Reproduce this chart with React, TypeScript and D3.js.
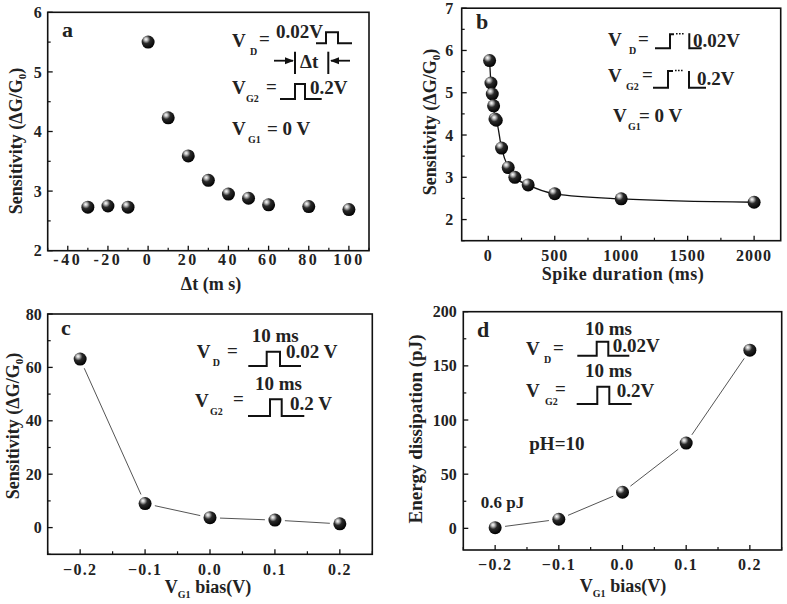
import React from "react";
import * as d3 from "d3";

// ---- Data ----
const aX = [-30, -20, -10, 0, 10, 20, 30, 40, 50, 60, 80, 100];
const aY = [2.73, 2.75, 2.73, 5.5, 4.23, 3.59, 3.18, 2.95, 2.88, 2.77, 2.74, 2.69];

const bX = [10, 20, 30, 40, 50, 60, 100, 150, 200, 300, 500, 1000, 2000];
const bY = [5.76, 5.23, 4.97, 4.69, 4.38, 4.35, 3.69, 3.23, 3.0, 2.82, 2.61, 2.49, 2.41];

const cX = [-0.2, -0.1, 0.0, 0.1, 0.2];
const cY = [63.1, 9.0, 3.7, 2.8, 1.4];

const dX = [-0.2, -0.1, 0.0, 0.1, 0.2];
const dY = [0.6, 8.4, 33.3, 78.7, 164.5];

const aXTicks = [-40, -20, 0, 20, 40, 60, 80, 100];
const aYTicks = [2, 3, 4, 5, 6];
const bXTicks = [0, 500, 1000, 1500, 2000];
const bYTicks = [2, 3, 4, 5, 6, 7];
const cXTicks = [-0.2, -0.1, 0.0, 0.1, 0.2];
const cYTicks = [0, 20, 40, 60, 80];
const dXTicks = [-0.2, -0.1, 0.0, 0.1, 0.2];
const dYTicks = [0, 50, 100, 150, 200];

const FONT = "'Liberation Serif', 'Times New Roman', serif";

type PanelProps = {
  box: [number, number, number, number];
  xDomain: [number, number];
  yDomain: [number, number];
  xTicks: number[];
  yTicks: number[];
  xMinorStep: number;
  yMinorStep: number;
  xFmt: (v: number) => string;
  yFmt: (v: number) => string;
  xs: number[];
  ys: number[];
  line: "none" | "curve" | "gap";
  xLabelDy: number;
  yLabelGap: number;
  xLetterSpacing: number;
};

function Panel(p: PanelProps) {
  const [l, t, r, b] = p.box;
  const x = d3.scaleLinear().domain(p.xDomain).range([l, r]);
  const y = d3.scaleLinear().domain(p.yDomain).range([b, t]);
  const xMinor = d3.range(
    Math.ceil(p.xDomain[0] / p.xMinorStep) * p.xMinorStep,
    p.xDomain[1] + 1e-9,
    p.xMinorStep
  ).filter((v) => !p.xTicks.some((m) => Math.abs(m - v) < 1e-9));
  const yMinor = d3.range(
    Math.ceil(p.yDomain[0] / p.yMinorStep) * p.yMinorStep,
    p.yDomain[1] + 1e-9,
    p.yMinorStep
  ).filter((v) => !p.yTicks.some((m) => Math.abs(m - v) < 1e-9));
  const pts = p.xs.map((v, i) => [x(v), y(p.ys[i])] as [number, number]);
  let lineEl: React.ReactNode = null;
  if (p.line === "curve") {
    const gen = d3.line().curve(d3.curveMonotoneX);
    lineEl = <path d={gen(pts) || ""} fill="none" stroke="#111" strokeWidth={1.3} />;
  } else if (p.line === "gap") {
    const g = 10;
    lineEl = pts.slice(1).map((q, i) => {
      const a = pts[i];
      const dx = q[0] - a[0], dy = q[1] - a[1];
      const len = Math.hypot(dx, dy);
      const ux = dx / len, uy = dy / len;
      return (
        <line key={i} x1={a[0] + ux * g} y1={a[1] + uy * g} x2={q[0] - ux * g} y2={q[1] - uy * g}
          stroke="#555" strokeWidth={1} />
      );
    });
  }
  return (
    <g>
      {p.xTicks.map((v) => (
        <g key={"xt" + v}>
          <line x1={x(v)} x2={x(v)} y1={b} y2={b - 5} stroke="#111" strokeWidth={1.3} />
          <text x={x(v)} y={b + p.xLabelDy} textAnchor="middle" fontSize={16} fontWeight="bold"
            letterSpacing={p.xLetterSpacing} fill="#222" fontFamily={FONT}>{p.xFmt(v)}</text>
        </g>
      ))}
      {xMinor.map((v) => (
        <line key={"xm" + v} x1={x(v)} x2={x(v)} y1={b} y2={b - 3} stroke="#111" strokeWidth={1.2} />
      ))}
      {p.yTicks.map((v) => (
        <g key={"yt" + v}>
          <line x1={l} x2={l + 5} y1={y(v)} y2={y(v)} stroke="#111" strokeWidth={1.3} />
          <text x={l - p.yLabelGap} y={y(v)} dy="0.35em" textAnchor="end" fontSize={16} fontWeight="bold"
            fill="#222" fontFamily={FONT}>{p.yFmt(v)}</text>
        </g>
      ))}
      {yMinor.map((v) => (
        <line key={"ym" + v} x1={l} x2={l + 3} y1={y(v)} y2={y(v)} stroke="#111" strokeWidth={1.2} />
      ))}
      {lineEl}
      {pts.map((q, i) => (
        <circle key={"p" + i} cx={q[0]} cy={q[1]} r={6.5} fill="url(#sphere)" />
      ))}
      <rect x={l} y={t} width={r - l} height={b - t} fill="none" stroke="#111" strokeWidth={1.6} />
    </g>
  );
}

const T = (props: any) => (
  <text fontFamily={FONT} fontWeight="bold" fill="#222" fontSize={19} {...props} />
);

function VSub(props: { x: number; y: number; sub: string; subDx: number }) {
  return (
    <g>
      <T x={props.x} y={props.y}>V</T>
      <T x={props.x + props.subDx} y={props.y + 8} fontSize={10}>{props.sub}</T>
    </g>
  );
}

function YLabel(props: { cx: number; cy: number }) {
  return (
    <text transform={`translate(${props.cx},${props.cy}) rotate(-90)`} textAnchor="middle" dy="0.35em"
      fontFamily={FONT} fontWeight="bold" fontSize={18} fill="#222">
      Sensitivity (ΔG/G<tspan fontSize={11} dy={4}>0</tspan><tspan dy={-4}>)</tspan>
    </text>
  );
}

function VG1Label(props: { cx: number; y: number }) {
  return (
    <text x={props.cx} y={props.y} textAnchor="middle" fontFamily={FONT} fontWeight="bold" fontSize={18} fill="#222">
      V<tspan fontSize={10} dy={5}>G1</tspan><tspan dy={-5}> bias(V)</tspan>
    </text>
  );
}

export default function App() {
  const f1 = (v: number) => d3.format(".1f")(v);
  const f0 = (v: number) => String(v);
  const stroke = { fill: "none", stroke: "#111", strokeWidth: 2 };
  return (
    <svg width={787} height={604} style={{ position: "absolute", left: 0, top: 0, background: "#fff" }}>
      <defs>
        <radialGradient id="sphere" cx="38%" cy="32%" r="70%" fx="33%" fy="28%">
          <stop offset="0%" stopColor="#ffffff" />
          <stop offset="18%" stopColor="#bdbdbd" />
          <stop offset="45%" stopColor="#2a2a2a" />
          <stop offset="100%" stopColor="#000" />
        </radialGradient>
        <marker id="arr" viewBox="0 0 10 10" refX="9" refY="5" markerWidth="5" markerHeight="5" orient="auto-start-reverse">
          <path d="M0,1 L10,5 L0,9 z" fill="#111" />
        </marker>
      </defs>
      <rect x={0} y={0} width={787} height={604} fill="#fff" />

      {/* Panel a */}
      <Panel box={[47.7, 12.3, 369, 250.7]} xDomain={[-50, 110]} yDomain={[2, 6]} xTicks={aXTicks} yTicks={aYTicks}
        xMinorStep={10} yMinorStep={0.5} xFmt={f0} yFmt={f0} xs={aX} ys={aY} line="none" xLabelDy={14}
        yLabelGap={6} xLetterSpacing={2.5} />
      <YLabel cx={16} cy={141} />
      <text x={211} y={290} textAnchor="middle" fontFamily={FONT} fontWeight="bold" fontSize={18} fill="#222">
        Δt (m s)
      </text>
      <T x={62} y={37} fontSize={22}>a</T>
      <VSub x={232} y={47} sub="D" subDx={18} />
      <T x={259} y={45}>=</T>
      <T x={276} y={38}>0.02V</T>
      <path d="M316,43.3 H326 V32.3 H338 V43.3 H352" {...stroke} />
      <line x1={274} y1={60.7} x2={293} y2={60.7} stroke="#111" strokeWidth={1.8} markerEnd="url(#arr)" />
      <line x1={295} y1={51.7} x2={295} y2={74} stroke="#111" strokeWidth={2} />
      <T x={300} y={68}>Δt</T>
      <line x1={328.3} y1={51.7} x2={328.3} y2={74} stroke="#111" strokeWidth={2} />
      <line x1={350} y1={60.7} x2={331} y2={60.7} stroke="#111" strokeWidth={1.8} markerEnd="url(#arr)" />
      <VSub x={232} y={94.3} sub="G2" subDx={14} />
      <T x={266} y={93}>=</T>
      <path d="M280,99 H295 V84 H305 V99 H321.7" {...stroke} />
      <T x={310} y={94.3}>0.2V</T>
      <VSub x={232} y={135} sub="G1" subDx={16} />
      <T x={267} y={135}>= 0 V</T>

      {/* Panel b */}
      <Panel box={[461.7, 8.2, 780.7, 240.7]} xDomain={[-200, 2200]} yDomain={[1.5, 7]} xTicks={bXTicks} yTicks={bYTicks}
        xMinorStep={250} yMinorStep={0.5} xFmt={f0} yFmt={f0} xs={bX} ys={bY} line="curve" xLabelDy={20}
        yLabelGap={8.5} xLetterSpacing={1} />
      <YLabel cx={430} cy={122} />
      <text x={623} y={280} textAnchor="middle" fontFamily={FONT} fontWeight="bold" fontSize={18} fill="#222"
        letterSpacing={0.5}>
        Spike duration (ms)
      </text>
      <T x={476} y={29} fontSize={22}>b</T>
      <VSub x={608} y={45.7} sub="D" subDx={21} />
      <T x={638} y={45}>=</T>
      <path d="M655,48.3 H670 V34.3 H674" {...stroke} />
      <line x1={676} y1={33.8} x2={684} y2={33.8} stroke="#111" strokeWidth={1.6} strokeDasharray="1.6,1.4" />
      <path d="M689.3,33.3 V48.3 H701.7" {...stroke} />
      <T x={693} y={46.7}>0.02V</T>
      <VSub x={608} y={81.7} sub="G2" subDx={18} />
      <T x={642} y={81}>=</T>
      <path d="M653,87.7 H668 V71 H673" {...stroke} />
      <line x1={675} y1={70.5} x2={683} y2={70.5} stroke="#111" strokeWidth={1.6} strokeDasharray="1.6,1.4" />
      <path d="M689,71 V87.7 H706" {...stroke} />
      <T x={697} y={85}>0.2V</T>
      <VSub x={613} y={121.7} sub="G1" subDx={15} />
      <T x={639} y={121.7}>= 0 V</T>

      {/* Panel c */}
      <Panel box={[47.7, 314, 372.3, 554.3]} xDomain={[-0.25, 0.25]} yDomain={[-10, 80]} xTicks={cXTicks} yTicks={cYTicks}
        xMinorStep={0.05} yMinorStep={10} xFmt={f1} yFmt={f0} xs={cX} ys={cY} line="gap" xLabelDy={21}
        yLabelGap={6} xLetterSpacing={1.3} />
      <YLabel cx={13} cy={426} />
      <VG1Label cx={208} y={593} />
      <T x={61} y={335} fontSize={22}>c</T>
      <T x={251.7} y={341.7}>10 ms</T>
      <VSub x={196.7} y={358.3} sub="D" subDx={16} />
      <T x={227} y={357}>=</T>
      <path d="M248.3,366 H266.7 V351.7 H280 V366 H301" {...stroke} />
      <T x={286} y={358.3}>0.02 V</T>
      <T x={255} y={390}>10 ms</T>
      <VSub x={195} y={406.7} sub="G2" subDx={15} />
      <T x={233} y={405}>=</T>
      <path d="M248,416 H270 V399.3 H281.7 V416 H304.3" {...stroke} />
      <T x={290} y={410}>0.2 V</T>

      {/* Panel d */}
      <Panel box={[463.3, 311.7, 781.7, 550]} xDomain={[-0.25, 0.25]} yDomain={[-20, 200]} xTicks={dXTicks} yTicks={dYTicks}
        xMinorStep={0.05} yMinorStep={25} xFmt={f1} yFmt={f0} xs={dX} ys={dY} line="gap" xLabelDy={20}
        yLabelGap={6.5} xLetterSpacing={1.3} />
      <text transform="translate(415,429) rotate(-90)" textAnchor="middle" dy="0.35em" fontFamily={FONT}
        fontWeight="bold" fontSize={19} fill="#222">
        Energy dissipation (pJ)
      </text>
      <VG1Label cx={623} y={592} />
      <T x={477} y={337} fontSize={22}>d</T>
      <T x={585} y={335}>10 ms</T>
      <VSub x={526} y={355} sub="D" subDx={18} />
      <T x={553} y={354}>=</T>
      <path d="M577.3,355.7 H596.7 V341.7 H608.3 V355.7 H629.3" {...stroke} />
      <T x={612.7} y={351.7}>0.02V</T>
      <T x={585} y={377.3}>10 ms</T>
      <VSub x={526} y={396.7} sub="G2" subDx={19} />
      <T x={555} y={395}>=</T>
      <path d="M576.7,404 H597.3 V386.7 H609.3 V404 H631.7" {...stroke} />
      <T x={616.7} y={396.7}>0.2V</T>
      <T x={529.3} y={450}>pH=10</T>
      <T x={480.7} y={508.3} fontSize={17}>0.6 pJ</T>
    </svg>
  );
}
